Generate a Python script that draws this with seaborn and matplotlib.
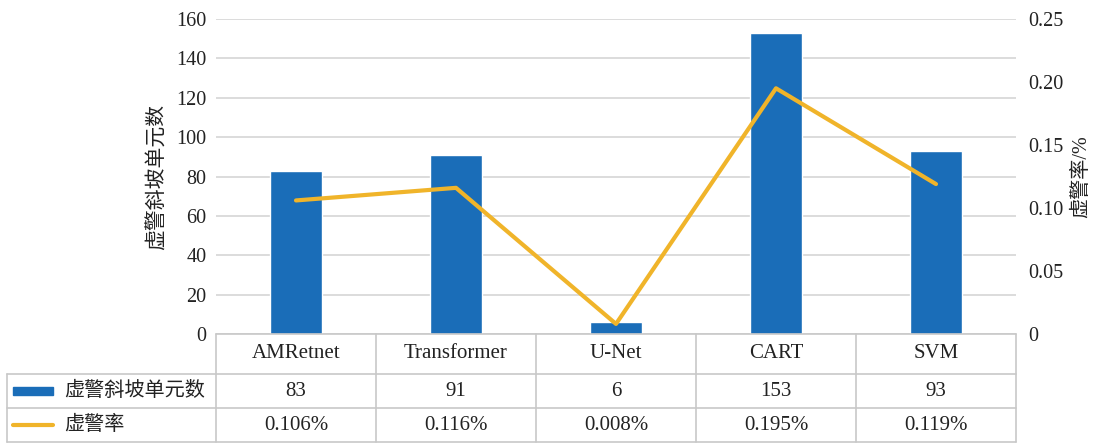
import matplotlib
matplotlib.use("Agg")
import matplotlib.pyplot as plt
import matplotlib.transforms as mtransforms
from matplotlib.lines import Line2D
from matplotlib.patches import Rectangle
import numpy as np
import pandas as pd
import seaborn as sns

# data
models = ["AMRetnet", "Transformer", "U-Net", "CART", "SVM"]
false_units = [83, 91, 6, 153, 93]
false_rate = [0.106, 0.116, 0.008, 0.195, 0.119]
rate_labels = ["0.106%", "0.116%", "0.008%", "0.195%", "0.119%"]
left_ticks = [0, 20, 40, 60, 80, 100, 120, 140, 160]
right_ticks = [0, 0.05, 0.10, 0.15, 0.20, 0.25]
right_ticklabels = ["0", "0.05", "0.10", "0.15", "0.20", "0.25"]

bar_name = "虚警斜坡单元数"
line_name = "虚警率"

sns.set_theme(style="white")
plt.rcParams["font.family"] = ["Liberation Serif", "Noto Sans CJK SC", "DejaVu Sans"]
plt.rcParams["axes.unicode_minus"] = False

BLUE = "#1a6db8"
GOLD = "#f0b42a"
GRID = "#d6d6d6"
TABLE = "#c8c8c8"
TXT = "#222222"

df = pd.DataFrame({"model": models, "units": false_units, "rate": false_rate})

fig = plt.figure(figsize=(10.95, 4.45), dpi=100)
ax = fig.add_axes([216 / 1095, 1 - 334 / 445, 800 / 1095, 315 / 445])

sns.barplot(data=df, x="model", y="units", color=BLUE, width=0.33,
            saturation=1, ax=ax, zorder=2)
ax.set_ylim(0, 160)
ax.set_xlim(-0.5, 4.5)
ax.set_yticks(left_ticks)
ax.set_yticklabels([str(t) for t in left_ticks], fontsize=14.5, color=TXT)
ax.grid(axis="y", color=GRID, linewidth=1.2, zorder=0)
ax.set_axisbelow(True)
ax.tick_params(axis="y", length=0, pad=7)
ax.tick_params(axis="x", length=0, labelbottom=False)
ax.set_xlabel("")
ax.set_ylabel(bar_name, fontsize=15, color=TXT, labelpad=6)
for s in ax.spines.values():
    s.set_visible(False)

ax2 = ax.twinx()
sns.lineplot(data=df, x="model", y="rate", color=GOLD, linewidth=3,
             sort=False, ax=ax2, zorder=3)
ax2.set_ylim(0, 0.25)
ax2.set_xlim(-0.5, 4.5)
ax2.set_yticks(right_ticks)
ax2.set_yticklabels(right_ticklabels, fontsize=14.5, color=TXT)
ax2.tick_params(axis="y", length=0, pad=9)
ax2.tick_params(axis="x", length=0, labelbottom=False)
ax2.set_xlabel("")
ax2.set_ylabel("虚警率/%", fontsize=14.5, color=TXT, labelpad=6)
ax2.grid(False)
for s in ax2.spines.values():
    s.set_visible(False)

# data table under the plot: x in data units, y in axes fraction
tr = mtransforms.blended_transform_factory(ax.transData, ax.transAxes)
ax_tr = ax.transAxes
y_rows = [0.0, -40 / 315, -74 / 315, -108 / 315]
x_left = -0.5
x_right = len(models) - 0.5
x_leg = (7 - 216) / 800

kw = dict(color=TABLE, linewidth=1.2, clip_on=False, zorder=5)
# horizontal lines
ax.add_line(Line2D([x_left, x_right], [y_rows[0]] * 2, transform=tr, **kw))
for yy in y_rows[1:]:
    ax.add_line(Line2D([x_leg, 1.0], [yy] * 2, transform=ax_tr, **kw))
# vertical lines
for i in range(len(models) + 1):
    ax.add_line(Line2D([i - 0.5] * 2, [y_rows[0], y_rows[3]], transform=tr, **kw))
ax.add_line(Line2D([x_leg] * 2, [y_rows[1], y_rows[3]], transform=ax_tr, **kw))

mid = [(y_rows[k] + y_rows[k + 1]) / 2 for k in range(3)]
for i, m in enumerate(models):
    ax.text(i, mid[0], m, transform=tr, ha="center", va="center",
            fontsize=15, color=TXT, clip_on=False)
    ax.text(i, mid[1], str(false_units[i]), transform=tr, ha="center",
            va="center", fontsize=15, color=TXT, clip_on=False)
    ax.text(i, mid[2], rate_labels[i], transform=tr, ha="center",
            va="center", fontsize=15, color=TXT, clip_on=False)

# legend keys inside the table
sw_x0 = (13 - 216) / 800
sw_x1 = (53 - 216) / 800
ax.add_patch(Rectangle((sw_x0, mid[1] - 4 / 315), sw_x1 - sw_x0, 8 / 315,
                       transform=ax_tr, color=BLUE, clip_on=False, zorder=6))
ax.add_line(Line2D([sw_x0, sw_x1], [mid[2]] * 2, transform=ax_tr, color=GOLD,
                   linewidth=3, clip_on=False, zorder=6))
txt_x = (64 - 216) / 800
ax.text(txt_x, mid[1], bar_name, transform=ax_tr, ha="left", va="center",
        fontsize=14.5, color=TXT, clip_on=False)
ax.text(txt_x, mid[2], line_name, transform=ax_tr, ha="left", va="center",
        fontsize=14.5, color=TXT, clip_on=False)

fig.savefig("out.png", dpi=100, facecolor="white")
